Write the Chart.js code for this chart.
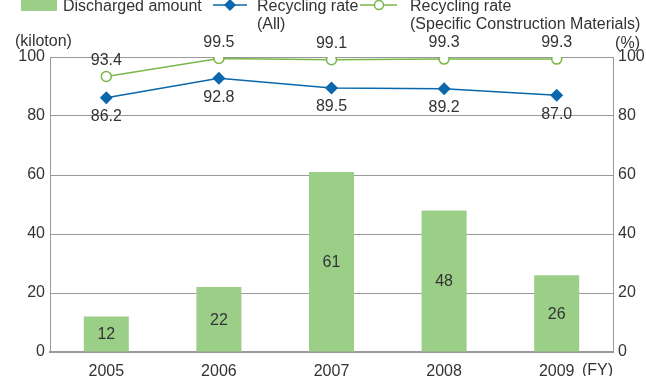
<!DOCTYPE html>
<html>
<head>
<meta charset="utf-8">
<script src="https://cdn.jsdelivr.net/npm/chart.js@4"></script>
<style>
  html, body { margin: 0; padding: 0; background: #fff; }
  #wrap { position: relative; width: 646px; height: 376px; }
</style>
</head>
<body>
<div id="wrap"><canvas id="c" width="646" height="376"></canvas></div>
<script>
// Fiscal years and the three series shown
const years = ['2005', '2006', '2007', '2008', '2009'];
const dischargedAmount = [12, 22, 61, 48, 26];           // kiloton
const recyclingRateAll = [86.2, 92.8, 89.5, 89.2, 87.0]; // %
const recyclingRateSCM = [93.4, 99.5, 99.1, 99.3, 99.3]; // %
const axisTicks = [0, 20, 40, 60, 80, 100];

const FONT = "'Liberation Sans', Arial, Helvetica, sans-serif";
const TEXT = '#333333';
const BAR = '#9bcf88';
const BLUE = '#0b67ab';
const GREEN = '#7ab648';
const GRID = '#9a9a9a';

// Value labels on bars and line points, plus legend and unit captions
const annotate = {
  id: 'annotate',
  afterDatasetsDraw(chart) {
    const ctx = chart.ctx;
    const area = chart.chartArea;
    ctx.save();
    ctx.font = '16px ' + FONT;
    ctx.fillStyle = TEXT;
    ctx.textAlign = 'center';
    ctx.textBaseline = 'middle';

    chart.getDatasetMeta(0).data.forEach((bar, i) => {
      ctx.fillText(String(dischargedAmount[i]), bar.x, (bar.y + bar.base) / 2 + 1);
    });
    chart.getDatasetMeta(1).data.forEach((pt, i) => {
      ctx.fillText(recyclingRateAll[i].toFixed(1), pt.x, pt.y + 19);
    });
    chart.getDatasetMeta(2).data.forEach((pt, i) => {
      ctx.fillText(recyclingRateSCM[i].toFixed(1), pt.x, pt.y - 16);
    });

    // unit captions
    ctx.textAlign = 'left';
    ctx.fillText('(kiloton)', 15, 42);
    ctx.textAlign = 'right';
    ctx.fillText('(%)', 640, 44);
    ctx.fillText('(FY)', area.right, area.bottom + 19);

    // legend
    ctx.textAlign = 'left';
    ctx.textBaseline = 'alphabetic';
    ctx.fillStyle = BAR;
    ctx.fillRect(21, -2, 36, 13);
    ctx.fillStyle = TEXT;
    ctx.fillText('Discharged amount', 63, 11);

    ctx.strokeStyle = BLUE;
    ctx.lineWidth = 1.5;
    ctx.beginPath(); ctx.moveTo(213, 5); ctx.lineTo(247, 5); ctx.stroke();
    ctx.fillStyle = BLUE;
    ctx.beginPath();
    ctx.moveTo(230, -1); ctx.lineTo(236, 5); ctx.lineTo(230, 11); ctx.lineTo(224, 5);
    ctx.closePath(); ctx.fill();
    ctx.fillStyle = TEXT;
    ctx.fillText('Recycling rate', 257, 11);
    ctx.fillText('(All)', 257, 29);

    ctx.strokeStyle = GREEN;
    ctx.beginPath(); ctx.moveTo(360, 5); ctx.lineTo(397, 5); ctx.stroke();
    ctx.fillStyle = '#fff';
    ctx.beginPath(); ctx.arc(379, 5, 4.5, 0, Math.PI * 2); ctx.fill(); ctx.stroke();
    ctx.fillStyle = TEXT;
    ctx.fillText('Recycling rate', 410, 11);
    ctx.fillText('(Specific Construction Materials)', 410, 29);
    ctx.restore();
  }
};

new Chart(document.getElementById('c'), {
  data: {
    labels: years,
    datasets: [
      {
        type: 'bar',
        label: 'Discharged amount',
        data: dischargedAmount,
        backgroundColor: BAR,
        borderWidth: 0,
        barPercentage: 0.4,
        categoryPercentage: 1,
        yAxisID: 'y',
        order: 3
      },
      {
        type: 'line',
        label: 'Recycling rate (All)',
        data: recyclingRateAll,
        borderColor: BLUE,
        backgroundColor: BLUE,
        borderWidth: 1.5,
        pointStyle: 'rectRot',
        pointRadius: 6.5,
        pointBorderWidth: 0,
        tension: 0,
        yAxisID: 'y1',
        order: 2
      },
      {
        type: 'line',
        label: 'Recycling rate (Specific Construction Materials)',
        data: recyclingRateSCM,
        borderColor: GREEN,
        backgroundColor: '#ffffff',
        borderWidth: 1.5,
        pointStyle: 'circle',
        pointRadius: 5,
        pointBorderWidth: 1.5,
        tension: 0,
        yAxisID: 'y1',
        order: 1
      }
    ]
  },
  options: {
    responsive: false,
    animation: false,
    layout: { padding: { top: 57, left: 0, right: 0, bottom: 0 } },
    plugins: {
      legend: { display: false },
      tooltip: { enabled: false }
    },
    scales: {
      x: {
        grid: { display: false },
        border: { display: true, color: GRID, width: 2 },
        ticks: { color: TEXT, font: { family: FONT, size: 16 }, padding: 2 },
        afterFit(scale) { scale.height = 24; }
      },
      y: {
        position: 'left',
        min: 0, max: 100,
        afterBuildTicks(scale) { scale.ticks = axisTicks.map(v => ({ value: v })); },
        grid: { color: GRID, lineWidth: 1, drawTicks: false },
        border: { display: true, color: GRID, width: 1 },
        ticks: { color: TEXT, font: { family: FONT, size: 16 }, padding: 5 },
        afterFit(scale) { scale.width = 50; }
      },
      y1: {
        position: 'right',
        min: 0, max: 100,
        afterBuildTicks(scale) { scale.ticks = axisTicks.map(v => ({ value: v })); },
        grid: { display: false, drawTicks: false },
        border: { display: true, color: GRID, width: 1 },
        ticks: { color: TEXT, font: { family: FONT, size: 16 }, padding: 5 },
        afterFit(scale) { scale.width = 33; }
      }
    }
  },
  plugins: [annotate]
});
</script>
</body>
</html>
